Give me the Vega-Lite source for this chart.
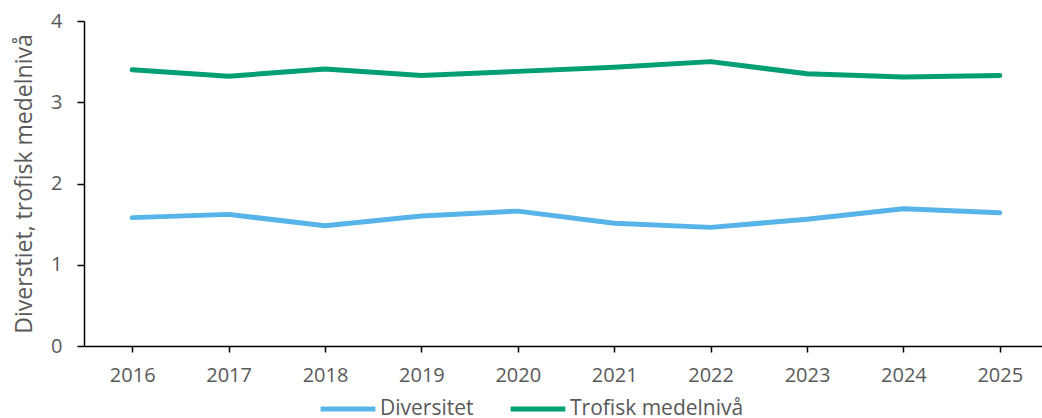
{
  "$schema": "https://vega.github.io/schema/vega-lite/v6.json",
  "autosize": {"type": "none"},
  "padding": {"left": 84, "top": 21, "right": 0, "bottom": 72},
  "width": 964,
  "height": 325,
  "config": {
    "view": {"stroke": null},
    "font": "Open Sans",
    "axis": {
      "labelFont": "Open Sans",
      "labelFontSize": 20,
      "labelColor": "#595959",
      "titleFont": "Open Sans",
      "titleFontSize": 23,
      "titleFontWeight": "normal",
      "titleColor": "#595959",
      "domainColor": "#000000",
      "domainWidth": 1.5,
      "tickColor": "#000000",
      "tickWidth": 1.5,
      "grid": false
    },
    "legend": {
      "labelFont": "Open Sans",
      "labelFontSize": 21,
      "labelColor": "#595959",
      "labelLimit": 400
    }
  },
  "data": {
    "values": [
      {"year": "2016", "series": "Diversitet", "value": 1.58},
      {"year": "2017", "series": "Diversitet", "value": 1.62},
      {"year": "2018", "series": "Diversitet", "value": 1.48},
      {"year": "2019", "series": "Diversitet", "value": 1.60},
      {"year": "2020", "series": "Diversitet", "value": 1.66},
      {"year": "2021", "series": "Diversitet", "value": 1.51},
      {"year": "2022", "series": "Diversitet", "value": 1.46},
      {"year": "2023", "series": "Diversitet", "value": 1.56},
      {"year": "2024", "series": "Diversitet", "value": 1.69},
      {"year": "2025", "series": "Diversitet", "value": 1.64},
      {"year": "2016", "series": "Trofisk medelnivå", "value": 3.40},
      {"year": "2017", "series": "Trofisk medelnivå", "value": 3.32},
      {"year": "2018", "series": "Trofisk medelnivå", "value": 3.41},
      {"year": "2019", "series": "Trofisk medelnivå", "value": 3.33},
      {"year": "2020", "series": "Trofisk medelnivå", "value": 3.38},
      {"year": "2021", "series": "Trofisk medelnivå", "value": 3.43},
      {"year": "2022", "series": "Trofisk medelnivå", "value": 3.50},
      {"year": "2023", "series": "Trofisk medelnivå", "value": 3.35},
      {"year": "2024", "series": "Trofisk medelnivå", "value": 3.31},
      {"year": "2025", "series": "Trofisk medelnivå", "value": 3.33}
    ]
  },
  "mark": {"type": "line", "strokeWidth": 5, "strokeCap": "round", "strokeJoin": "round"},
  "encoding": {
    "x": {
      "field": "year",
      "type": "ordinal",
      "scale": {"type": "point", "padding": 0.5},
      "axis": {"title": null, "labelAngle": 0, "tickSize": 6, "labelPadding": 13}
    },
    "y": {
      "field": "value",
      "type": "quantitative",
      "scale": {"domain": [0, 4], "nice": false},
      "axis": {
        "title": "Diverstiet, trofisk medelnivå",
        "values": [0, 1, 2, 3, 4],
        "tickSize": 7,
        "labelPadding": 15,
        "titlePadding": 14
      }
    },
    "color": {
      "field": "series",
      "type": "nominal",
      "scale": {"domain": ["Diversitet", "Trofisk medelnivå"], "range": ["#56B4E9", "#009E73"]},
      "legend": {
        "title": null,
        "orient": "none",
        "direction": "horizontal",
        "legendX": 234,
        "legendY": 358,
        "symbolType": "stroke",
        "symbolSize": 3000,
        "symbolStrokeWidth": 5,
        "labelOffset": 2,
        "labelBaseline": "middle",
        "columnPadding": 26
      }
    }
  }
}
